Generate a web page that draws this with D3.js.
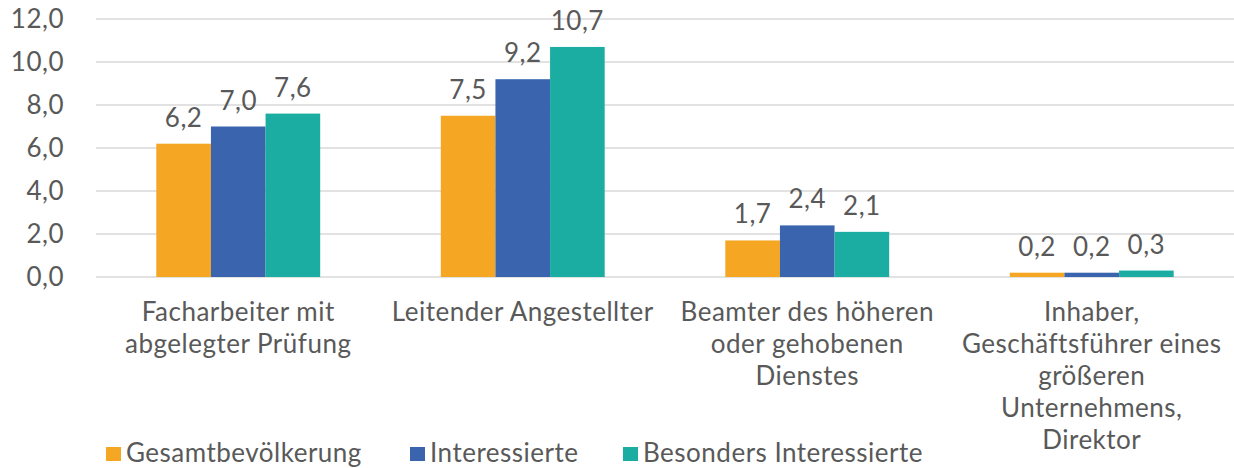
<!DOCTYPE html>
<html lang="de">
<head>
<meta charset="UTF-8">
<title>Berufsgruppen</title>
<script src="https://d3js.org/d3.v7.min.js"></script>
<style>
  body { margin: 0; background: #fff; }
  text { font-family: Lato, "Open Sans", sans-serif; fill: #595959; letter-spacing: 0.5px; }
</style>
</head>
<body>
<script>
// Kategorien (Zeilenumbrüche wie im Original)
const categories = [
  "Facharbeiter mit\nabgelegter Prüfung",
  "Leitender Angestellter",
  "Beamter des höheren\noder gehobenen\nDienstes",
  "Inhaber,\nGeschäftsführer eines\ngrößeren\nUnternehmens,\nDirektor"
];
const seriesNames = ["Gesamtbevölkerung", "Interessierte", "Besonders Interessierte"];
const gesamt = [6.2, 7.5, 1.7, 0.2];
const interessierte = [7.0, 9.2, 2.4, 0.2];
const besonders = [7.6, 10.7, 2.1, 0.3];
const yTicks = [0, 2, 4, 6, 8, 10, 12];
const colors = ["#F5A623", "#3A64AD", "#1BADA1"];

const series = [gesamt, interessierte, besonders];

const W = 1234, H = 468;
const m = { left: 96, right: 0, top: 19, bottom: 191 };
const fs = "26px";

const svg = d3.select("body").append("svg")
  .attr("width", W)
  .attr("height", H);

const x = d3.scaleBand()
  .domain(categories)
  .range([m.left, W - m.right])
  .paddingInner(0.424)
  .paddingOuter(0.212);

const x1 = d3.scaleBand()
  .domain(d3.range(series.length))
  .range([0, x.bandwidth()]);

const y = d3.scaleLinear()
  .domain([0, 12])
  .range([H - m.bottom, m.top]);

const fmt = v => d3.format(".1f")(v).replace(".", ",");

// Gitterlinien
svg.append("g")
  .selectAll("line")
  .data(yTicks)
  .join("line")
  .attr("x1", m.left)
  .attr("x2", W - m.right)
  .attr("y1", d => y(d))
  .attr("y2", d => y(d))
  .attr("stroke", "#D9D9D9")
  .attr("stroke-width", 1.5);

// Y-Achse Beschriftung
svg.append("g")
  .selectAll("text")
  .data(yTicks)
  .join("text")
  .attr("x", 64)
  .attr("y", d => y(d) + 9)
  .attr("text-anchor", "end")
  .style("font-size", fs)
  .text(d => fmt(d));

// Balken
const groups = svg.append("g")
  .selectAll("g")
  .data(categories)
  .join("g")
  .attr("transform", d => `translate(${x(d)},0)`);

groups.selectAll("rect")
  .data((d, i) => series.map((s, k) => ({ k, v: s[i] })))
  .join("rect")
  .attr("x", d => x1(d.k))
  .attr("width", x1.bandwidth())
  .attr("y", d => y(d.v))
  .attr("height", d => y(0) - y(d.v))
  .attr("fill", d => colors[d.k]);

groups.selectAll("text.val")
  .data((d, i) => series.map((s, k) => ({ k, v: s[i] })))
  .join("text")
  .attr("class", "val")
  .attr("x", d => x1(d.k) + x1.bandwidth() / 2)
  .attr("y", d => y(d.v) - 17)
  .attr("text-anchor", "middle")
  .style("font-size", fs)
  .text(d => fmt(d.v));

// Kategorien
const catLabels = svg.append("g")
  .selectAll("text")
  .data(categories)
  .join("text")
  .attr("x", d => x(d) + x.bandwidth() / 2)
  .attr("y", 321)
  .attr("text-anchor", "middle")
  .style("font-size", fs);

catLabels.selectAll("tspan")
  .data(d => d.split("\n"))
  .join("tspan")
  .attr("x", function () { return this.parentNode.getAttribute("x"); })
  .attr("dy", (d, i) => i === 0 ? 0 : 32)
  .text(d => d);

// Legende
const legendX = [106, 410, 623];
const legend = svg.append("g")
  .selectAll("g")
  .data(seriesNames)
  .join("g")
  .attr("transform", (d, i) => `translate(${legendX[i]},447)`);

legend.append("rect")
  .attr("width", 15)
  .attr("height", 14)
  .attr("fill", (d, i) => colors[i]);

legend.append("text")
  .attr("x", 20)
  .attr("y", 15)
  .style("font-size", fs)
  .text(d => d);
</script>
</body>
</html>
